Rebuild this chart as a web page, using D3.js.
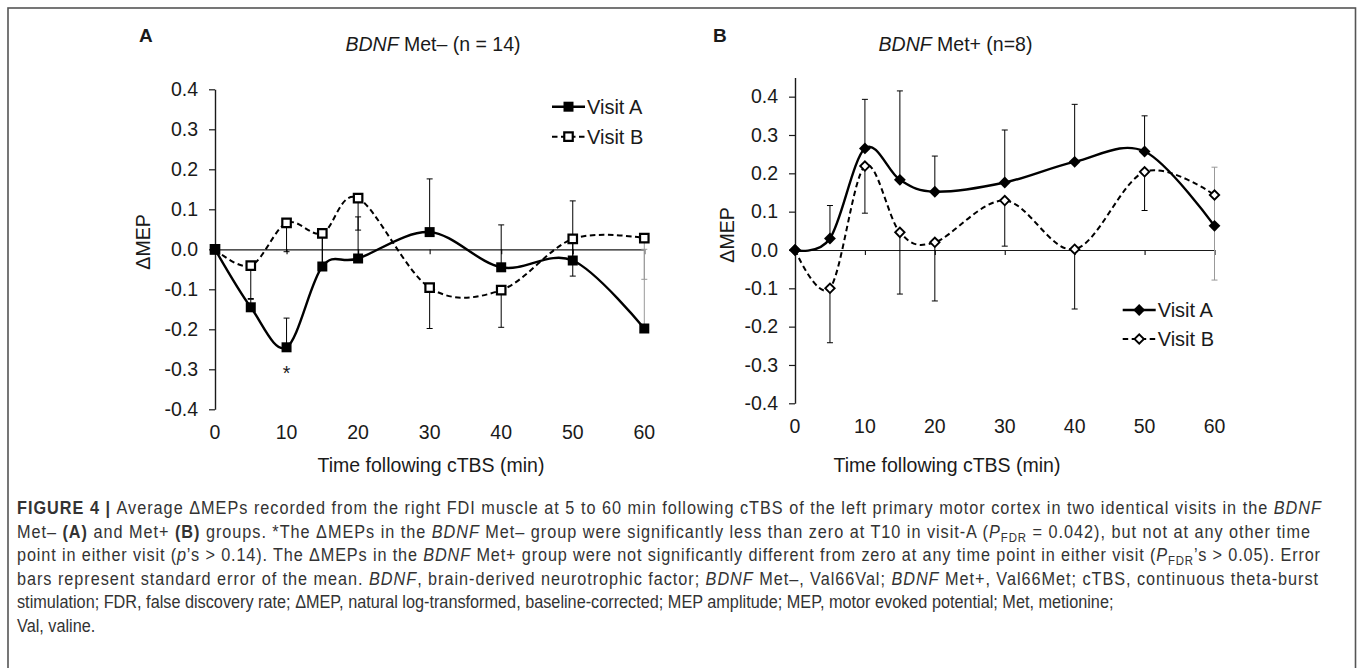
<!DOCTYPE html>
<html><head><meta charset="utf-8">
<script src="https://cdn.jsdelivr.net/npm/d3@7"></script>
<style>body{margin:0;background:#fff} svg{display:block}</style>
</head><body>
<svg id="c" width="1358" height="668"></svg>
<script>
// ---------- DATA ----------
const times = [0, 5, 10, 15, 20, 30, 40, 50, 60];
const xTicks = [0, 10, 20, 30, 40, 50, 60];
const yTicks = [-0.4, -0.3, -0.2, -0.1, 0.0, 0.1, 0.2, 0.3, 0.4];
const seriesNames = ["Visit A", "Visit B"];

// Panel A: BDNF Met- (n = 14)
const metMinusVisitA = [0, -0.145, -0.245, -0.043, -0.023, 0.043, -0.045, -0.028, -0.198];
const metMinusVisitB = [0, -0.041, 0.066, 0.040, 0.128, -0.096, -0.102, 0.026, 0.028];
const metMinusErrA   = [0, 0.020, 0.073, 0.078, 0.104, 0.133, 0.106, 0.149, 0.198]; // plus bars
const metMinusErrB   = [0, 0.082, 0.072, 0.075, 0.080, 0.102, 0.093, 0.093, 0.103]; // minus bars

// Panel B: BDNF Met+ (n=8)
const metPlusVisitA = [0, 0.030, 0.265, 0.183, 0.152, 0.176, 0.230, 0.257, 0.063];
const metPlusVisitB = [0, -0.100, 0.219, 0.046, 0.020, 0.129, 0.002, 0.204, 0.1435];
const metPlusErrA   = [0, 0.086, 0.128, 0.232, 0.093, 0.137, 0.150, 0.093, 0.153]; // plus bars
const metPlusErrB   = [0, 0.142, 0.123, 0.161, 0.153, 0.119, 0.156, 0.101, 0.222]; // minus bars

const panelLetters = ["A", "B"];
const xAxisTitle = "Time following cTBS (min)";
const yAxisTitle = "\u0394MEP";

// ---------- DRAW ----------
const svg = d3.select("#c");
const FONT = "'Liberation Sans', Arial, Helvetica, sans-serif";
const INK = "#1a1a1a";

// outer frame
svg.append("rect").attr("x", 8).attr("y", 8).attr("width", 1347.5).attr("height", 680)
  .attr("fill", "none").attr("stroke", "#555").attr("stroke-width", 1.6);

const panels = [
  { letter: panelLetters[0], titleItal: "BDNF", titleRest: " Met\u2013 (n = 14)",
    a: metMinusVisitA, b: metMinusVisitB, ea: metMinusErrA, eb: metMinusErrB,
    xr: [215, 644.3], yd: [-0.4, 0.4], yr: [409.3, 89.3],
    letterX: 139, titleX: 433, ylabX: 150, ylabY: 242, xlabX: 431,
    marker: "square", legX: 552, legY: [106.7, 136.7] },
  { letter: panelLetters[1], titleItal: "BDNF", titleRest: " Met+ (n=8)",
    a: metPlusVisitA, b: metPlusVisitB, ea: metPlusErrA, eb: metPlusErrB,
    xr: [795, 1214.5], yd: [-0.4, 0.45], yr: [403.3, 77.5],
    letterX: 713, titleX: 955.5, ylabX: 734, ylabY: 235, xlabX: 947,
    marker: "diamond", legX: 1122.7, legY: [310, 339] }
];

function markerPath(kind, filled) {
  if (kind === "square") return d3.symbol().type(d3.symbolSquare).size(filled ? 100 : 72)();
  return d3.symbol().type(d3.symbolSquare).size(filled ? 70 : 44)();
}
function drawMarker(g, kind, filled, cx, cy) {
  const rot = kind === "diamond" ? " rotate(45)" : "";
  g.append("path").attr("d", markerPath(kind, filled))
    .attr("transform", `translate(${cx},${cy})${rot}`)
    .attr("fill", filled ? "#000" : "#fff")
    .attr("stroke", "#000")
    .attr("stroke-width", filled ? 0 : (kind === "square" ? 2.2 : 1.9));
}

panels.forEach(p => {
  const g = svg.append("g");
  const x = d3.scaleLinear().domain([0, 60]).range(p.xr);
  const y = d3.scaleLinear().domain(p.yd).range(p.yr);

  // panel letter & title
  g.append("text").attr("x", p.letterX).attr("y", 41.7).attr("font-family", FONT)
    .attr("font-weight", "bold").attr("font-size", 19).attr("fill", INK).text(p.letter);
  const t = g.append("text").attr("x", p.titleX).attr("y", 50.5).attr("text-anchor", "middle")
    .attr("font-family", FONT).attr("font-size", 19.5).attr("fill", INK);
  t.append("tspan").attr("font-style", "italic").text(p.titleItal);
  t.append("tspan").text(p.titleRest);

  // y axis
  const ya = g.append("g").attr("transform", `translate(${p.xr[0]},0)`)
    .call(d3.axisLeft(y).tickValues(yTicks).tickSize(6).tickSizeOuter(0).tickPadding(11)
      .tickFormat(d => d.toFixed(1)));
  ya.select(".domain").attr("stroke", INK).attr("stroke-width", 1.4);
  ya.selectAll(".tick line").attr("stroke", INK).attr("stroke-width", 1.2);
  ya.selectAll(".tick text").attr("font-family", FONT).attr("font-size", 19.5).attr("fill", INK);

  // x axis line at zero with downward ticks
  const xa = g.append("g").attr("transform", `translate(0,${y(0)})`)
    .call(d3.axisBottom(x).tickValues(xTicks).tickSize(5).tickSizeOuter(0).tickFormat(""));
  xa.select(".domain").attr("stroke", INK).attr("stroke-width", 1.2);
  xa.selectAll(".tick line").attr("stroke", INK).attr("stroke-width", 1.2);
  // x tick labels at bottom
  g.selectAll(".xl").data(xTicks).enter().append("text")
    .attr("x", d => x(d)).attr("y", y(-0.4) + 30).attr("text-anchor", "middle")
    .attr("font-family", FONT).attr("font-size", 19.5).attr("fill", INK).text(d => d);

  // axis titles
  g.append("text").attr("x", p.xlabX).attr("y", 472).attr("text-anchor", "middle")
    .attr("font-family", FONT).attr("font-size", 19.5).attr("fill", INK).text(xAxisTitle);
  g.append("text").attr("transform", `translate(${p.ylabX},${p.ylabY}) rotate(-90)`)
    .attr("text-anchor", "middle").attr("font-family", FONT).attr("font-size", 19.5)
    .attr("fill", INK).text(yAxisTitle);

  // error bars (Visit A plus, Visit B minus)
  const cap = 3;
  function errBars(vals, errs, sign) {
    times.forEach((tm, i) => {
      if (!errs[i]) return;
      const last = i === times.length - 1;
      const col = last ? "#999" : "#000";
      const xx = x(tm), y1 = y(vals[i]), y2 = y(vals[i] + sign * errs[i]);
      g.append("line").attr("x1", xx).attr("x2", xx).attr("y1", y1).attr("y2", y2)
        .attr("stroke", col).attr("stroke-width", 1);
      g.append("line").attr("x1", xx - cap).attr("x2", xx + cap).attr("y1", y2).attr("y2", y2)
        .attr("stroke", col).attr("stroke-width", 1);
    });
  }
  errBars(p.a, p.ea, +1);
  errBars(p.b, p.eb, -1);

  // lines
  const line = d3.line().x(d => x(d[0])).y(d => y(d[1])).curve(d3.curveCardinal.tension(0));
  const ptsA = times.map((tm, i) => [tm, p.a[i]]);
  const ptsB = times.map((tm, i) => [tm, p.b[i]]);
  g.append("path").attr("d", line(ptsB)).attr("fill", "none").attr("stroke", "#000")
    .attr("stroke-width", 2).attr("stroke-dasharray", "5.5,3.5");
  g.append("path").attr("d", line(ptsA)).attr("fill", "none").attr("stroke", "#000")
    .attr("stroke-width", 2.4);
  ptsB.forEach(d => drawMarker(g, p.marker, false, x(d[0]), y(d[1])));
  ptsA.forEach(d => drawMarker(g, p.marker, true, x(d[0]), y(d[1])));

  // legend
  seriesNames.forEach((nm, i) => {
    const ly = p.legY[i];
    const ln = g.append("line").attr("x1", p.legX).attr("x2", p.legX + 33).attr("y1", ly).attr("y2", ly)
      .attr("stroke", "#000").attr("stroke-width", i === 0 ? 2.4 : 2);
    if (i === 1) ln.attr("stroke-dasharray", "5.5,3.5");
    drawMarker(g, p.marker, i === 0, p.legX + 16.5, ly);
    g.append("text").attr("x", p.legX + 35).attr("y", ly + 7).attr("font-family", FONT)
      .attr("font-size", 20).attr("fill", INK).text(nm);
  });

  if (p.letter === "A") {
    g.append("text").attr("x", x(10)).attr("y", 380).attr("text-anchor", "middle")
      .attr("font-family", FONT).attr("font-size", 19.5).attr("fill", INK).text("*");
  }
});

// ---------- CAPTION ----------
const captionLines = [
  [["FIGURE 4 | ", "b"], ["Average \u0394MEPs recorded from the right FDI muscle at 5 to 60 min following cTBS of the left primary motor cortex in two identical visits in the "], ["BDNF", "i"]],
  [["Met\u2013 "], ["(A)", "b"], [" and Met+ "], ["(B)", "b"], [" groups. *The \u0394MEPs in the "], ["BDNF", "i"], [" Met\u2013 group were significantly less than zero at T10 in visit-A ("], ["P", "i"], ["FDR", "sub"], [" = 0.042), but not at any other time"]],
  [["point in either visit ("], ["p", "i"], ["\u2019s > 0.14). The \u0394MEPs in the "], ["BDNF", "i"], [" Met+ group were not significantly different from zero at any time point in either visit ("], ["P", "i"], ["FDR", "sub"], ["\u2019s > 0.05). Error"]],
  [["bars represent standard error of the mean. "], ["BDNF", "i"], [", brain-derived neurotrophic factor; "], ["BDNF", "i"], [" Met\u2013, Val66Val; "], ["BDNF", "i"], [" Met+, Val66Met; cTBS, continuous theta-burst"]],
  [["stimulation; FDR, false discovery rate; \u0394MEP, natural log-transformed, baseline-corrected; MEP amplitude; MEP, motor evoked potential; Met, metionine;"]],
  [["Val, valine."]]
];
const captionWidths = [1304, 1293, 1303, 1301, 1097, null];
const CFONT = "'Liberation Sans Narrow', 'Arial Narrow', 'Liberation Sans', Arial, sans-serif";
const capTexts = captionLines.map((segs, li) => {
  const t = svg.append("text").attr("x", 0).attr("y", 0)
    .attr("font-family", CFONT).attr("font-size", 18.5).attr("fill", "#333");
  let sub = false;
  segs.forEach(([txt, st]) => {
    const ts = t.append("tspan").text(txt);
    if (st === "b") ts.attr("font-weight", "bold");
    if (st === "i") ts.attr("font-style", "italic");
    if (st === "sub") { ts.attr("font-size", 13).attr("dy", 4); sub = true; }
    else if (sub) { ts.attr("dy", -4); sub = false; }
  });
  return t;
});
// condense glyphs so the unjustified last full line has its natural width, justify the others
const sx = captionWidths[4] / capTexts[4].node().getComputedTextLength();
capTexts.forEach((t, li) => {
  t.attr("transform", `translate(17,${514 + li * 23.6}) scale(${sx},1)`);
  if (captionWidths[li] && li !== 4) {
    t.attr("textLength", captionWidths[li] / sx).attr("lengthAdjust", "spacing");
  }
});
</script>
</body></html>
